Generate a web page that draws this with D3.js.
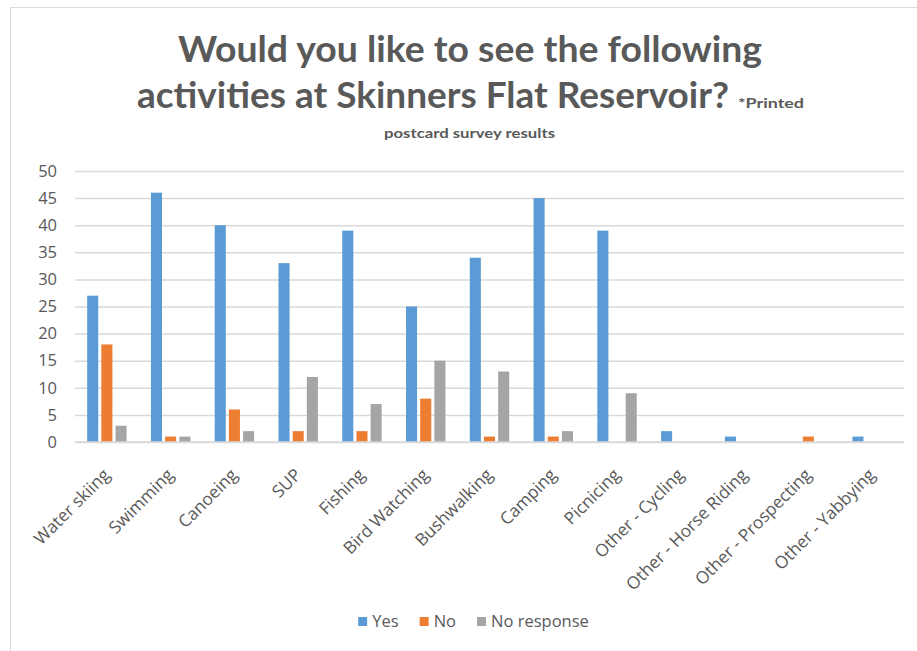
<!DOCTYPE html>
<html>
<head>
<meta charset="utf-8">
<script src="https://cdn.jsdelivr.net/npm/d3@7"></script>
<style>
  html, body { margin: 0; padding: 0; background: #ffffff; }
  svg { display: block; }
</style>
</head>
<body>
<script>
// Survey responses per activity
const categories = [
  "Water skiing", "Swimming", "Canoeing", "SUP", "Fishing", "Bird Watching",
  "Bushwalking", "Camping", "Picnicing", "Other - Cycling",
  "Other - Horse Riding", "Other - Prospecting", "Other - Yabbying"
];
const seriesNames = ["Yes", "No", "No response"];
const yesValues        = [27, 46, 40, 33, 39, 25, 34, 45, 39, 2, 1, 0, 1];
const noValues         = [18, 1, 6, 2, 2, 8, 1, 1, 0, 0, 0, 1, 0];
const noResponseValues = [3, 1, 2, 12, 7, 15, 13, 2, 9, 0, 0, 0, 0];
const yTicks = [0, 5, 10, 15, 20, 25, 30, 35, 40, 45, 50];
const seriesColors = ["#5b9bd5", "#ed7d31", "#a5a5a5"];

const titleLine1 = "Would you like to see the following";
const titleLine2 = "activities at Skinners Flat Reservoir?";
const titleNote = "*Printed";
const subtitle = "postcard survey results";

const W = 917, H = 651;
const plot = { left: 75, right: 904, top: 171, bottom: 442 };
const textColor = "#595959";
const uiFont = "'Open Sans', 'Noto Sans', sans-serif";
const titleFont = "Lato, 'Open Sans', sans-serif";

const svg = d3.select("body").append("svg")
  .attr("width", W).attr("height", H);

// outer frame (left and top edges)
svg.append("line").attr("x1", 10.5).attr("x2", 10.5).attr("y1", 7).attr("y2", H)
  .attr("stroke", "#d9d9d9").attr("stroke-width", 1);
svg.append("line").attr("x1", 10).attr("x2", W).attr("y1", 7.5).attr("y2", 7.5)
  .attr("stroke", "#d9d9d9").attr("stroke-width", 1);

// title block
svg.append("text")
  .attr("x", 178).attr("y", 62)
  .attr("font-family", titleFont).attr("font-weight", 700)
  .attr("font-size", 36).attr("fill", textColor)
  .attr("textLength", 584).attr("lengthAdjust", "spacingAndGlyphs")
  .text(titleLine1);
svg.append("text")
  .attr("x", 137).attr("y", 108)
  .attr("font-family", titleFont).attr("font-weight", 700)
  .attr("font-size", 36).attr("fill", textColor)
  .attr("textLength", 592).attr("lengthAdjust", "spacingAndGlyphs")
  .text(titleLine2);
svg.append("text")
  .attr("x", 738).attr("y", 108)
  .attr("font-family", titleFont).attr("font-weight", 700)
  .attr("font-size", 14).attr("fill", textColor)
  .attr("textLength", 66).attr("lengthAdjust", "spacingAndGlyphs")
  .text(titleNote);
svg.append("text")
  .attr("x", 384).attr("y", 138)
  .attr("font-family", titleFont).attr("font-weight", 700)
  .attr("font-size", 14).attr("fill", textColor)
  .attr("textLength", 171).attr("lengthAdjust", "spacingAndGlyphs")
  .text(subtitle);

// scales
const x0 = d3.scaleBand()
  .domain(categories)
  .range([plot.left, plot.right])
  .paddingInner(0.382).paddingOuter(0.191);
const x1 = d3.scaleBand()
  .domain(seriesNames)
  .range([0, x0.bandwidth()])
  .paddingInner(0.22);
const y = d3.scaleLinear().domain([0, 50]).range([plot.bottom, plot.top]);

// gridlines
const yAxis = d3.axisLeft(y).tickValues(yTicks).tickSize(-(plot.right - plot.left)).tickPadding(18);
const gy = svg.append("g").attr("transform", `translate(${plot.left},0)`).call(yAxis);
gy.select(".domain").remove();
gy.selectAll(".tick line").attr("stroke", "#d9d9d9").attr("stroke-width", 1.5);
gy.selectAll(".tick text")
  .attr("font-family", uiFont).attr("font-size", 16.5).attr("fill", textColor);

// bars
const table = categories.map((c, i) => ({
  category: c,
  values: [yesValues[i], noValues[i], noResponseValues[i]]
}));
const groups = svg.append("g").selectAll("g")
  .data(table).join("g")
  .attr("transform", d => `translate(${x0(d.category)},0)`);
groups.selectAll("rect")
  .data(d => d.values.map((v, k) => ({ key: seriesNames[k], value: v, k })))
  .join("rect")
  .attr("x", d => x1(d.key))
  .attr("width", x1.bandwidth())
  .attr("y", d => y(d.value))
  .attr("height", d => y(0) - y(d.value))
  .attr("fill", d => seriesColors[d.k]);

// baseline
svg.append("line")
  .attr("x1", plot.left).attr("x2", plot.right)
  .attr("y1", y(0)).attr("y2", y(0))
  .attr("stroke", "#d9d9d9").attr("stroke-width", 1.5);

// category labels, rotated
const xAxis = d3.axisBottom(x0).tickSize(0).tickPadding(0);
const gx = svg.append("g").attr("transform", `translate(0,${plot.bottom})`).call(xAxis);
gx.select(".domain").remove();
gx.selectAll(".tick text")
  .attr("font-family", uiFont).attr("font-size", 17.2).attr("fill", textColor)
  .attr("text-anchor", "end")
  .attr("dy", null).attr("y", 0)
  .attr("transform", "translate(4,34) rotate(-45)");

// legend
const legend = svg.append("g");
const items = legend.selectAll("g").data(seriesNames).join("g");
items.append("rect").attr("width", 9).attr("height", 9).attr("y", -10)
  .attr("fill", (d, i) => seriesColors[i]);
items.append("text").attr("x", 14).attr("y", 0)
  .attr("font-family", uiFont).attr("font-size", 16.5).attr("fill", textColor)
  .text(d => d);
const widths = items.nodes().map(n => n.getBBox().width);
const gap = 21;
const total = d3.sum(widths) + gap * (widths.length - 1);
let cx = 473.5 - total / 2;
items.attr("transform", (d, i) => {
  const tx = cx;
  cx += widths[i] + gap;
  return `translate(${tx},627)`;
});
</script>
</body>
</html>
